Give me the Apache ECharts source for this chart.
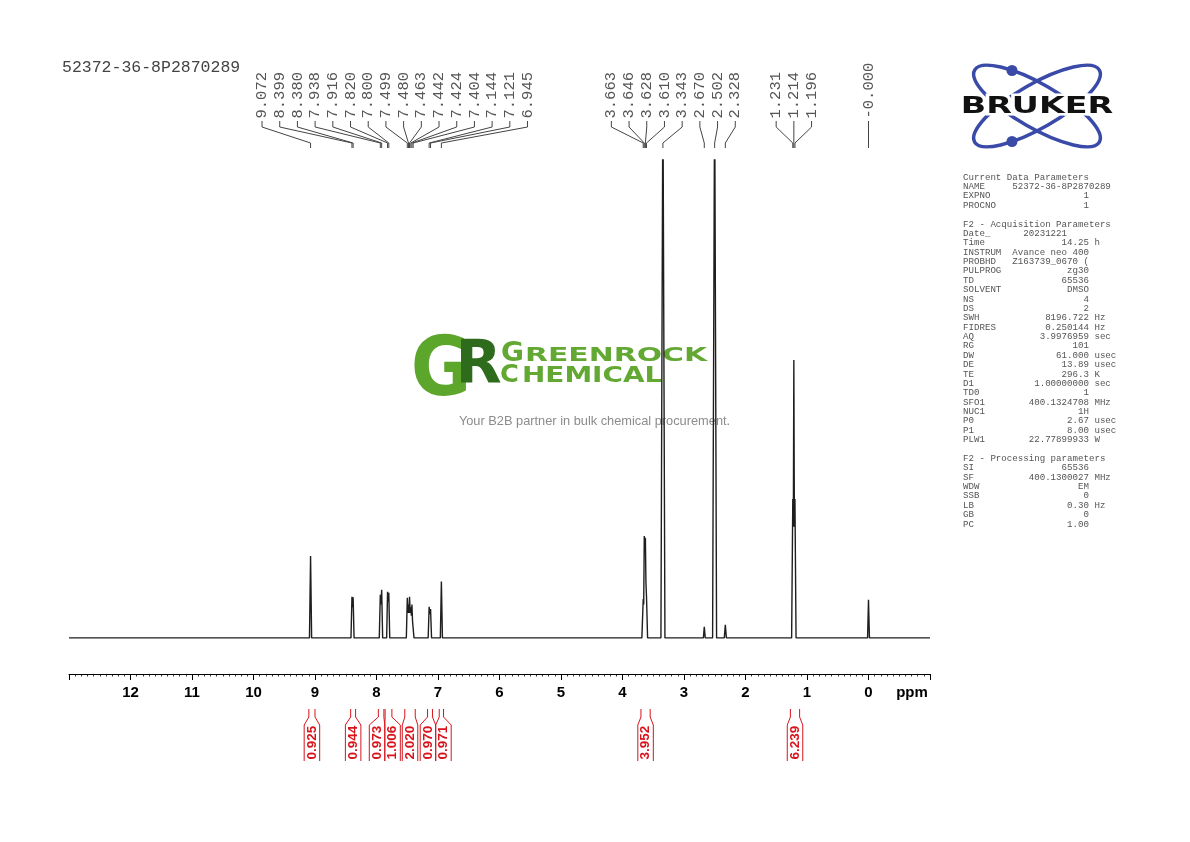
<!DOCTYPE html>
<html>
<head>
<meta charset="utf-8">
<script src="https://cdn.jsdelivr.net/npm/echarts@6.0.0/dist/echarts.min.js"></script>
<style>html,body{margin:0;padding:0;background:#fff}#chart{width:1190px;height:842px}</style>
</head>
<body>
<div id="chart"></div>
<script>
// ---------------- DATA ----------------
const sampleName = '52372-36-8P2870289';

// spectrum trace: chemical shift (ppm) and relative intensity
const spectrumPpm = [13.0,
  9.090, 9.072, 9.055,
  8.415, 8.399, 8.390, 8.380, 8.365,
  7.955, 7.938, 7.927, 7.916, 7.900,
  7.835, 7.820, 7.810, 7.800, 7.785,
  7.515, 7.499, 7.490, 7.480, 7.471, 7.463, 7.452, 7.442, 7.433, 7.424, 7.414, 7.404, 7.390,
  7.160, 7.144, 7.132, 7.121, 7.105,
  6.962, 6.945, 6.928,
  3.685, 3.663, 3.655, 3.646, 3.637, 3.628, 3.619, 3.610, 3.592,
  3.375, 3.343, 3.310,
  2.685, 2.670, 2.655,
  2.535, 2.502, 2.470,
  2.345, 2.328, 2.311,
  1.250, 1.231, 1.222, 1.214, 1.205, 1.196, 1.178,
  0.015, 0.000, -0.015,
  -1.0];
const spectrumIntensity = [0,
  0, 29.5, 0,
  0, 14.8, 11, 14.6, 0,
  0, 15.5, 12, 17.3, 0,
  0, 16.6, 13, 16.2, 0,
  0, 14.4, 9, 12, 9, 14.8, 9, 11, 8, 12, 6, 6.5, 0,
  0, 11.2, 8.5, 10.4, 0,
  0, 20.3, 0,
  0, 14, 12, 36.7, 33, 36, 20, 15, 0,
  0, 200, 0,
  0, 4, 0,
  0, 200, 0,
  0, 4.7, 0,
  0, 50, 40, 100, 40, 50, 0,
  0, 13.7, 0,
  0];

// peak pick labels
const peakLabels = ['9.072','8.399','8.380','7.938','7.916','7.820','7.800','7.499','7.480','7.463',
  '7.442','7.424','7.404','7.144','7.121','6.945','3.663','3.646','3.628','3.610','3.343','2.670',
  '2.502','2.328','1.231','1.214','1.196','-0.000'];

// integrals (ppm from, ppm to, value)
const integralFrom  = [9.10, 8.42, 7.97, 7.86, 7.54, 7.17, 6.98, 3.70, 1.27];
const integralTo    = [9.00, 8.34, 7.88, 7.75, 7.37, 7.09, 6.91, 3.55, 1.12];
const integralValue = [0.925, 0.944, 0.973, 1.006, 2.020, 0.970, 0.971, 3.952, 6.239];

// axis ticks
const axisMin = -1, axisMax = 13, axisStep = 1;

// parameter block
const currentNames  = ['NAME','EXPNO','PROCNO'];
const currentValues = ['52372-36-8P2870289','1','1'];
const currentUnits  = ['','',''];
const acqNames  = ['Date_','Time','INSTRUM','PROBHD','PULPROG','TD','SOLVENT','NS','DS','SWH','FIDRES','AQ','RG','DW','DE','TE','D1','TD0','SFO1','NUC1','P0','P1','PLW1'];
const acqValues = ['20231221    ','14.25','Avance neo 400','Z163739_0670 (','zg30','65536','DMSO','4','2','8196.722','0.250144','3.9976959','101','61.000','13.89','296.3','1.00000000','1','400.1324708','1H','2.67','8.00','22.77899933'];
const acqUnits  = ['','h','','','','','','','','Hz','Hz','sec','','usec','usec','K','sec','','MHz','','usec','usec','W'];
const procNames  = ['SI','SF','WDW','SSB','LB','GB','PC'];
const procValues = ['65536','400.1300027','EM','0','0.30','0','1.00'];
const procUnits  = ['','MHz','','','Hz','',''];

// ---------------- LAYOUT HELPERS ----------------
const LABEL_GAP = 17.7;
const BOX_W = 15.5;

function spread(centers, gap) {
  let cl = centers.map((c, i) => ({ s: i, n: 1, sum: c }));
  let changed = true;
  while (changed) {
    changed = false;
    for (let k = 0; k < cl.length - 1; k++) {
      const a = cl[k], b = cl[k + 1];
      const ac = a.sum / a.n, bc = b.sum / b.n;
      if ((bc - (b.n - 1) / 2 * gap) - (ac + (a.n - 1) / 2 * gap) < gap) {
        cl.splice(k, 2, { s: a.s, n: a.n + b.n, sum: a.sum + b.sum });
        changed = true;
        break;
      }
    }
  }
  const out = [];
  cl.forEach(c => {
    const m = c.sum / c.n;
    for (let j = 0; j < c.n; j++) out[c.s + j] = m + (j - (c.n - 1) / 2) * gap;
  });
  return out;
}

function paramLines(names, values, units) {
  return names.map((n, i) => {
    let s = n.padEnd(9) + values[i].padStart(14);
    if (units[i]) s += ' ' + units[i];
    return s;
  });
}
const paramText = ['Current Data Parameters']
  .concat(paramLines(currentNames, currentValues, currentUnits))
  .concat([' ', 'F2 - Acquisition Parameters'])
  .concat(paramLines(acqNames, acqValues, acqUnits))
  .concat([' ', 'F2 - Processing parameters'])
  .concat(paramLines(procNames, procValues, procUnits))
  .join('\n');

// ---------------- CHART ----------------
const chart = echarts.init(document.getElementById('chart'), null, { renderer: 'canvas' });
const BLUE = '#3a4aa8';
const GREEN = '#62a833';
const RED = '#d8141c';

const option = {
  animation: false,
  backgroundColor: '#ffffff',
  grid: { left: 69, right: 260, top: 160, bottom: 168, containLabel: false, outerBoundsMode: 'none' },
  xAxis: {
    type: 'value', inverse: true, min: axisMin, max: axisMax, interval: axisStep,
    axisLine: { show: true, onZero: false, lineStyle: { color: '#000', width: 1 } },
    axisTick: { show: true, length: 6, lineStyle: { color: '#000', width: 1 } },
    minorTick: { show: true, splitNumber: 10, length: 2.5, lineStyle: { color: '#000', width: 0.8 } },
    splitLine: { show: false },
    minorSplitLine: { show: false },
    axisLabel: {
      margin: 11, color: '#000', fontSize: 15, fontWeight: 'bold', fontFamily: '"Liberation Sans", Arial, sans-serif',
      formatter: v => (v < 0 || v > 12) ? '' : String(v)
    }
  },
  yAxis: { type: 'value', show: false, min: -13, max: 172, splitLine: { show: false } },
  graphic: [
    { type: 'text', x: 62, y: 68, z: 1, style: { text: sampleName, font: '16.5px "Liberation Mono", monospace', fill: '#444', verticalAlign: 'middle' } },
    { type: 'text', x: 912, y: 692.5, z: 1, style: { text: 'ppm', font: 'bold 15px "Liberation Sans", Arial, sans-serif', fill: '#000', align: 'center', verticalAlign: 'middle' } },
    { type: 'text', x: 963, y: 172.5, z: 1, style: { text: paramText, font: '9.13px "Liberation Mono", monospace', lineHeight: 9.378, fill: '#555', verticalAlign: 'top' } },
    // Bruker logo
    { type: 'group', z: 1, children: [
      { type: 'ellipse', x: 1037, y: 106, rotation: Math.PI / 6, shape: { cx: 0, cy: 0, rx: 72, ry: 22 }, style: { stroke: BLUE, lineWidth: 3.5, fill: null } },
      { type: 'ellipse', x: 1037, y: 106, rotation: -Math.PI / 6, shape: { cx: 0, cy: 0, rx: 72, ry: 22 }, style: { stroke: BLUE, lineWidth: 3.5, fill: null } },
      { type: 'circle', shape: { cx: 1012, cy: 70.5, r: 5.5 }, style: { fill: BLUE } },
      { type: 'circle', shape: { cx: 1012, cy: 141.5, r: 5.5 }, style: { fill: BLUE } },
      { type: 'text', x: 1037, y: 107.5, scaleX: 1.45, style: { text: 'BRUKER', font: 'bold 23px "DejaVu Sans"', fill: null, stroke: '#fff', lineWidth: 5, align: 'center', verticalAlign: 'middle' } },
      { type: 'text', x: 1037, y: 107.5, scaleX: 1.45, style: { text: 'BRUKER', font: 'bold 23px "DejaVu Sans"', fill: '#111', align: 'center', verticalAlign: 'middle' } }
    ]},
    // Greenrock watermark
    { type: 'group', z: 0, children: [
      { type: 'text', x: 441, y: 374, scaleX: 0.9, style: { text: 'G', font: 'bold 82px "DejaVu Sans"', fill: '#5ca62c', align: 'center', verticalAlign: 'middle' } },
      { type: 'text', x: 478.5, y: 367.4, style: { text: 'R', font: 'bold 60px "DejaVu Sans"', fill: '#2f6b1d', align: 'center', verticalAlign: 'middle' } },
      { type: 'text', x: 501, y: 354.2, scaleX: 1.08, style: { text: 'G', font: 'bold 26px "DejaVu Sans"', fill: GREEN, align: 'left', verticalAlign: 'middle' } },
      { type: 'text', x: 525, y: 356.2, scaleX: 1.57, style: { text: 'REENROCK', font: 'bold 19px "DejaVu Sans"', fill: GREEN, align: 'left', verticalAlign: 'middle' } },
      { type: 'text', x: 500, y: 375.6, scaleX: 1.05, style: { text: 'C', font: 'bold 24.5px "DejaVu Sans"', fill: GREEN, align: 'left', verticalAlign: 'middle' } },
      { type: 'text', x: 522, y: 377.1, scaleX: 1.36, style: { text: 'HEMICAL', font: 'bold 20.5px "DejaVu Sans"', fill: GREEN, align: 'left', verticalAlign: 'middle' } },
      { type: 'text', x: 594.5, y: 421, style: { text: 'Your B2B partner in bulk chemical procurement.', font: '12.8px "Liberation Sans", Arial, sans-serif', fill: '#8c8c8c', align: 'center', verticalAlign: 'middle' } }
    ]}
  ],
  series: [
    {
      type: 'line', z: 3, silent: true, clip: true, symbol: 'none', showSymbol: false,
      data: spectrumPpm.map((p, i) => [p, spectrumIntensity[i]]),
      lineStyle: { color: '#1e1e1e', width: 1.4 }
    },
    {
      type: 'custom', coordinateSystem: 'cartesian2d', silent: true, z: 4, clip: false,
      data: peakLabels.map((t, i) => [parseFloat(t), 0, i]),
      renderItem: function (params, api) {
        const i = api.value(2);
        const xs = peakLabels.map(t => api.coord([parseFloat(t), 0])[0]);
        const lx = spread(xs, LABEL_GAP)[i];
        const px = xs[i];
        return {
          type: 'group',
          children: [
            { type: 'polyline', shape: { points: [[lx, 121], [lx, 127], [px, 143], [px, 148]] }, style: { stroke: '#444', lineWidth: 1, fill: null } },
            { type: 'text', x: lx, y: 118.5, rotation: Math.PI / 2, style: { text: peakLabels[i], font: '15.5px "Liberation Mono", monospace', fill: '#555', align: 'left', verticalAlign: 'middle' } }
          ]
        };
      }
    },
    {
      type: 'custom', coordinateSystem: 'cartesian2d', silent: true, z: 4, clip: false,
      data: integralValue.map((v, i) => [(integralFrom[i] + integralTo[i]) / 2, 0, i]),
      renderItem: function (params, api) {
        const i = api.value(2);
        const centers = integralFrom.map((f, k) => (api.coord([f, 0])[0] + api.coord([integralTo[k], 0])[0]) / 2);
        const bc = spread(centers, BOX_W)[i];
        const x1 = api.coord([integralFrom[i], 0])[0];
        const x2 = api.coord([integralTo[i], 0])[0];
        const bl = bc - BOX_W / 2, br = bc + BOX_W / 2;
        const ls = { stroke: RED, lineWidth: 1, fill: null };
        return {
          type: 'group',
          children: [
            { type: 'polyline', shape: { points: [[x1, 709], [x1, 717], [bl, 725], [bl, 761]] }, style: ls },
            { type: 'polyline', shape: { points: [[x2, 709], [x2, 717], [br, 725], [br, 761]] }, style: ls },
            { type: 'text', x: bc, y: 759.5, rotation: Math.PI / 2, style: { text: integralValue[i].toFixed(3), font: 'bold 13.5px "Liberation Sans", Arial, sans-serif', fill: RED, align: 'left', verticalAlign: 'middle' } }
          ]
        };
      }
    }
  ]
};
chart.setOption(option);
</script>
</body>
</html>
